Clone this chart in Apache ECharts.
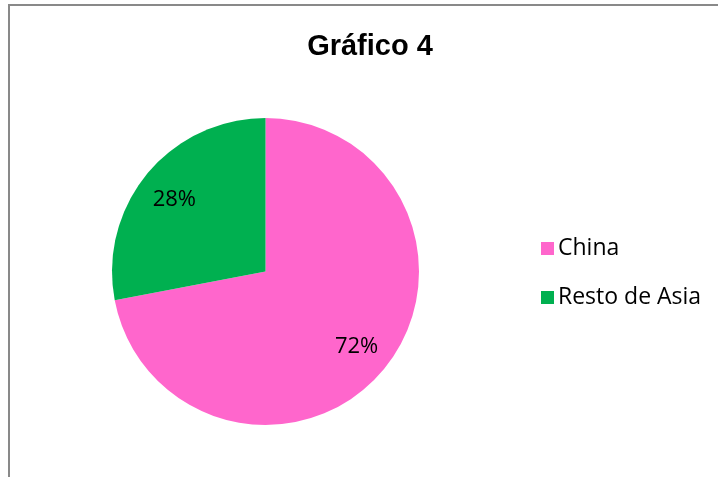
<!DOCTYPE html>
<html>
<head>
<meta charset="utf-8">
<script src="https://cdn.jsdelivr.net/npm/echarts@6/dist/echarts.min.js"></script>
<style>
  html, body { margin: 0; padding: 0; background: #fff; }
  #chart { width: 718px; height: 477px; }
</style>
</head>
<body>
<div id="chart"></div>
<script>
const categories = ['China', 'Resto de Asia']
const shares = [72, 28]
const colors = ['#FF66CC', '#00B050']
const labelOffsets = [[0, 0], [0, 4]]

const pieData = categories.map((name, i) => ({
  name,
  value: shares[i],
  itemStyle: { color: colors[i] }
}))

const chart = echarts.init(document.getElementById('chart'))
const option = {
  animation: false,
  title: {
    text: 'Gráfico 4',
    left: 365,
    textAlign: 'center',
    top: 27,
    textStyle: { fontFamily: 'Liberation Sans', fontWeight: 'bold', fontSize: 29, color: '#000' }
  },
  graphic: [{
    type: 'rect',
    shape: { x: 9, y: 5, width: 800, height: 600 },
    style: { fill: 'none', stroke: '#898989', lineWidth: 2 },
    silent: true
  }],
  legend: {
    orient: 'vertical',
    left: 536,
    top: 230,
    icon: 'rect',
    itemWidth: 13,
    itemHeight: 13,
    itemGap: 22,
    textStyle: { fontFamily: 'Open Sans', fontSize: 23, color: '#000', lineHeight: 27, padding: [0, 0, 0, -1] },
    data: categories
  },
  series: [
    {
      type: 'pie',
      center: [265.5, 271.5],
      radius: [0, 153.5],
      startAngle: 90,
      clockwise: true,
      label: { show: false },
      labelLine: { show: false },
      data: pieData
    },
    {
      // transparent ring used only to place the percentage labels at 3/4 radius
      type: 'pie',
      center: [265.5, 271.5],
      radius: [77, 153.5],
      startAngle: 90,
      clockwise: true,
      silent: true,
      legendHoverLink: false,
      itemStyle: { color: 'rgba(0,0,0,0)' },
      label: {
        show: true,
        position: 'inside',
        formatter: '{c}%',
        fontFamily: 'Open Sans',
        fontSize: 22,
        color: '#000'
      },
      labelLine: { show: false },
      data: categories.map((name, i) => ({
        name: name + ' ',
        value: shares[i],
        label: { offset: labelOffsets[i] }
      }))
    }
  ]
}
chart.setOption(option)
</script>
</body>
</html>
